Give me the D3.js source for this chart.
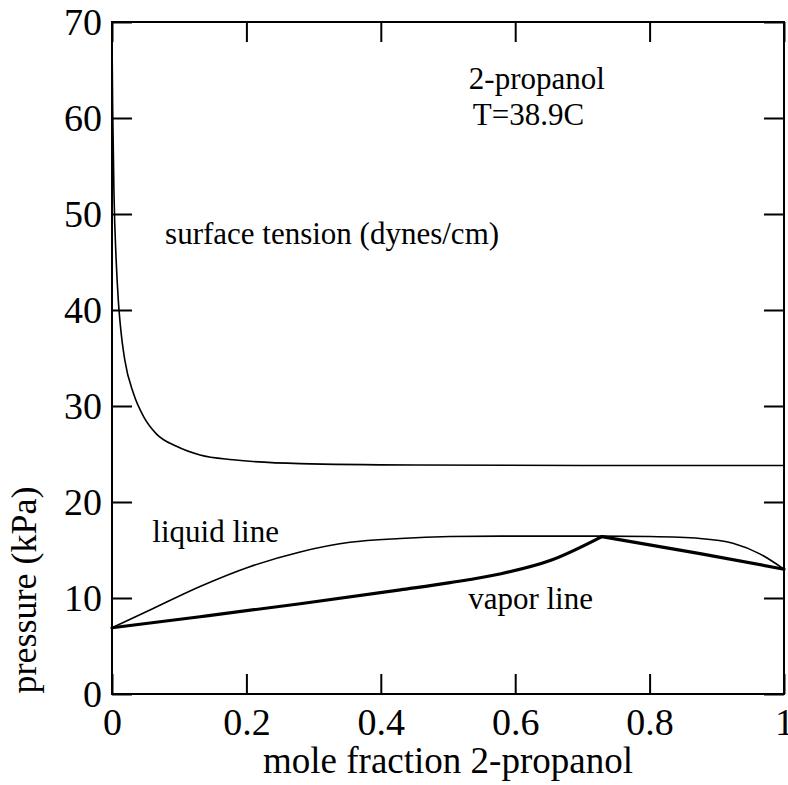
<!DOCTYPE html>
<html>
<head>
<meta charset="utf-8">
<script src="https://cdn.jsdelivr.net/npm/d3@7"></script>
<style>
  body { margin: 0; background: #fff; }
  svg { display: block; }
</style>
</head>
<body>
<svg id="chart" width="788" height="785"></svg>
<script>
// ---- data ----
const xTicks = [0, 0.2, 0.4, 0.6, 0.8, 1];
const xTickLabels = ["0", "0.2", "0.4", "0.6", "0.8", "1"];
const yTicks = [0, 10, 20, 30, 40, 50, 60, 70];
const yTickLabels = ["0", "10", "20", "30", "40", "50", "60", "70"];

const surfX = [0, 0.001, 0.003, 0.006, 0.0094, 0.013, 0.019, 0.032, 0.047, 0.066, 0.096, 0.131, 0.18, 0.28, 0.45, 0.7, 1.0];
const surfY = [68.5, 61, 52, 45.5, 41, 38.0, 34.8, 31.3, 28.9, 27.1, 25.8, 24.9, 24.4, 24.0, 23.85, 23.8, 23.8];

const liquidX = [0, 0.0565, 0.131, 0.205, 0.28, 0.354, 0.429, 0.503, 0.58, 0.726, 0.8, 0.875, 0.924, 0.964, 1.0];
const liquidY = [6.9, 8.75, 11.2, 13.26, 14.8, 15.8, 16.2, 16.4, 16.45, 16.45, 16.4, 16.2, 15.7, 14.6, 13.0];

const vaporX = [0, 0.131, 0.28, 0.429, 0.503, 0.577, 0.652, 0.729, 0.875, 1.0];
const vaporY = [6.9, 8.05, 9.4, 10.85, 11.6, 12.5, 13.9, 16.4, 14.62, 13.0];

const annotations = [
  { text: "2-propanol", x: 0.531, y: 63.0 },
  { text: "T=38.9C", x: 0.537, y: 59.3 },
  { text: "surface tension (dynes/cm)", x: 0.079, y: 46.9 },
  { text: "liquid line", x: 0.060, y: 15.8 },
  { text: "vapor line", x: 0.530, y: 8.9 }
];

// ---- layout ----
const FONT = "Liberation Serif";
const mLeft = 112, mRight = 784, mTop = 22, mBottom = 694;
const svg = d3.select("#chart");
const x = d3.scaleLinear().domain([0, 1]).range([mLeft, mRight]);
const y = d3.scaleLinear().domain([0, 70]).range([mBottom, mTop]);

const tickLen = 20;
const tickFont = 38;

const axBottom = d3.axisBottom(x).tickValues(xTicks).tickFormat((d, i) => xTickLabels[i]).tickSizeInner(-tickLen).tickSizeOuter(0);
const axTop = d3.axisTop(x).tickValues(xTicks).tickFormat("").tickSizeInner(-tickLen).tickSizeOuter(0);
const axLeft = d3.axisLeft(y).tickValues(yTicks).tickFormat((d, i) => yTickLabels[i]).tickSizeInner(-tickLen).tickSizeOuter(0);
const axRight = d3.axisRight(y).tickValues(yTicks).tickFormat("").tickSizeInner(-tickLen).tickSizeOuter(0);

function styleAxis(g) {
  g.attr("font-family", FONT);
  g.select(".domain").remove();
  g.selectAll(".tick line").attr("stroke", "#000").attr("stroke-width", 2);
  g.selectAll(".tick text").attr("font-size", tickFont).attr("fill", "#000").attr("font-family", FONT);
}
const gb = svg.append("g").attr("transform", `translate(0,${mBottom})`).call(axBottom).call(styleAxis);
gb.selectAll(".tick text").attr("dy", null).attr("y", 41);
svg.append("g").attr("transform", `translate(0,${mTop})`).call(axTop).call(styleAxis);
const gl = svg.append("g").attr("transform", `translate(${mLeft},0)`).call(axLeft).call(styleAxis);
gl.selectAll(".tick text").attr("x", -10).attr("dy", "0.34em");
svg.append("g").attr("transform", `translate(${mRight},0)`).call(axRight).call(styleAxis);

svg.append("rect").attr("x", mLeft).attr("y", mTop).attr("width", mRight - mLeft).attr("height", mBottom - mTop)
  .attr("fill", "none").attr("stroke", "#000").attr("stroke-width", 2);

const zip = (xs, ys) => xs.map((v, i) => [v, ys[i]]);
const line = d3.line().x(d => x(d[0])).y(d => y(d[1])).curve(d3.curveMonotoneX);

svg.append("path").datum(zip(surfX, surfY)).attr("d", line)
  .attr("fill", "none").attr("stroke", "#000").attr("stroke-width", 1.6);
svg.append("path").datum(zip(liquidX, liquidY)).attr("d", line)
  .attr("fill", "none").attr("stroke", "#000").attr("stroke-width", 1.6);

const vap = zip(vaporX, vaporY);
const peak = d3.maxIndex(vaporY);
[vap.slice(0, peak + 1), vap.slice(peak)].forEach(seg => {
  svg.append("path").datum(seg).attr("d", line)
    .attr("fill", "none").attr("stroke", "#000").attr("stroke-width", 3.2)
    .attr("stroke-linejoin", "round").attr("stroke-linecap", "round");
});

svg.selectAll("text.ann").data(annotations).enter().append("text")
  .attr("class", "ann")
  .attr("x", d => x(d.x)).attr("y", d => y(d.y))
  .attr("font-family", FONT).attr("font-size", 31).attr("fill", "#000")
  .text(d => d.text);

svg.append("text").attr("x", (mLeft + mRight) / 2).attr("y", 773)
  .attr("text-anchor", "middle").attr("font-family", FONT).attr("font-size", 37).attr("fill", "#000")
  .text("mole fraction 2-propanol");
svg.append("text").attr("transform", "translate(36,590) rotate(-90)")
  .attr("text-anchor", "middle").attr("font-family", FONT).attr("font-size", 36).attr("fill", "#000")
  .text("pressure (kPa)");
</script>
</body>
</html>
